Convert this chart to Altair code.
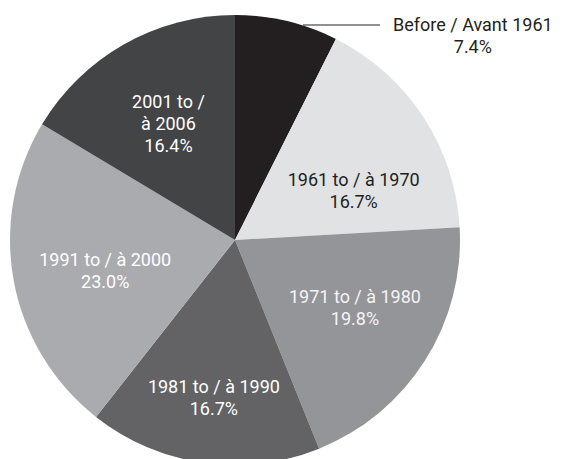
import altair as alt
import pandas as pd

# ---- data ----
periods = ["Before / Avant 1961", "1961 to / à 1970", "1971 to / à 1980",
           "1981 to / à 1990", "1991 to / à 2000", "2001 to / à 2006"]
shares = [7.4, 16.7, 19.8, 16.7, 23.0, 16.4]
label_texts = [
    "Before / Avant 1961\n7.4%",
    "1961 to / à 1970\n16.7%",
    "1971 to / à 1980\n19.8%",
    "1981 to / à 1990\n16.7%",
    "1991 to / à 2000\n23.0%",
    "2001 to /\nà 2006\n16.4%",
]
slice_colors = ["#231f20", "#e1e2e4", "#949598", "#636366", "#aaabae", "#434446"]

df = pd.DataFrame({
    "order": list(range(len(periods))),
    "period": periods,
    "share": shares,
    "text": label_texts,
})

FONT = "Roboto, sans-serif"
FS = 18
LH = 22
CX, CY, R = 227, 232, 225

theta_scale = alt.Scale(domain=[0, 100])

base = alt.Chart(df).transform_window(
    end="sum(share)", sort=[alt.SortField("order")], frame=[None, 0]
).transform_calculate(
    start="datum.end - datum.share",
    mid="datum.end - datum.share / 2",
)

arcs = base.mark_arc(outerRadius=R).encode(
    theta=alt.Theta("start:Q", scale=theta_scale),
    theta2="end:Q",
    color=alt.Color("period:N", scale=alt.Scale(domain=periods, range=slice_colors), legend=None),
    x=alt.value(CX),
    y=alt.value(CY),
)

def label_layer(name, radius, color, dx=0, dy=0):
    return base.transform_filter(
        alt.FieldEqualPredicate(field="period", equal=name)
    ).mark_text(
        radius=radius, font=FONT, fontSize=FS, lineHeight=LH, lineBreak="\n",
        align="center", baseline="middle", color=color, dx=dx, dy=dy,
    ).encode(
        theta=alt.Theta("mid:Q", scale=theta_scale),
        text="text:N",
        x=alt.value(CX),
        y=alt.value(CY),
    )

WHITE, DARK = "#ffffff", "#231f20"
labels = [
    label_layer(periods[0], R, DARK, dx=186, dy=5),
    label_layer(periods[1], 130, DARK, dx=10, dy=12),
    label_layer(periods[2], 135, "#f4f4f4", dx=6, dy=-14),
    label_layer(periods[3], 157, WHITE, dx=1, dy=-7),
    label_layer(periods[4], 135, WHITE, dx=3, dy=-3),
    label_layer(periods[5], 135, WHITE, dx=0, dy=-20),
]

leader = alt.Chart(df).transform_filter(
    alt.FieldEqualPredicate(field="order", equal=0)
).mark_rule(color=DARK, strokeWidth=1).encode(
    x=alt.value(295), x2=alt.value(372), y=alt.value(17)
)

chart = alt.layer(arcs, *labels, leader).properties(
    width=549, height=451,
    autosize=alt.AutoSizeParams(type="none"),
    padding=0,
).configure_view(stroke=None)

chart.save("out.html", embed_options={"renderer": "svg", "actions": False})
